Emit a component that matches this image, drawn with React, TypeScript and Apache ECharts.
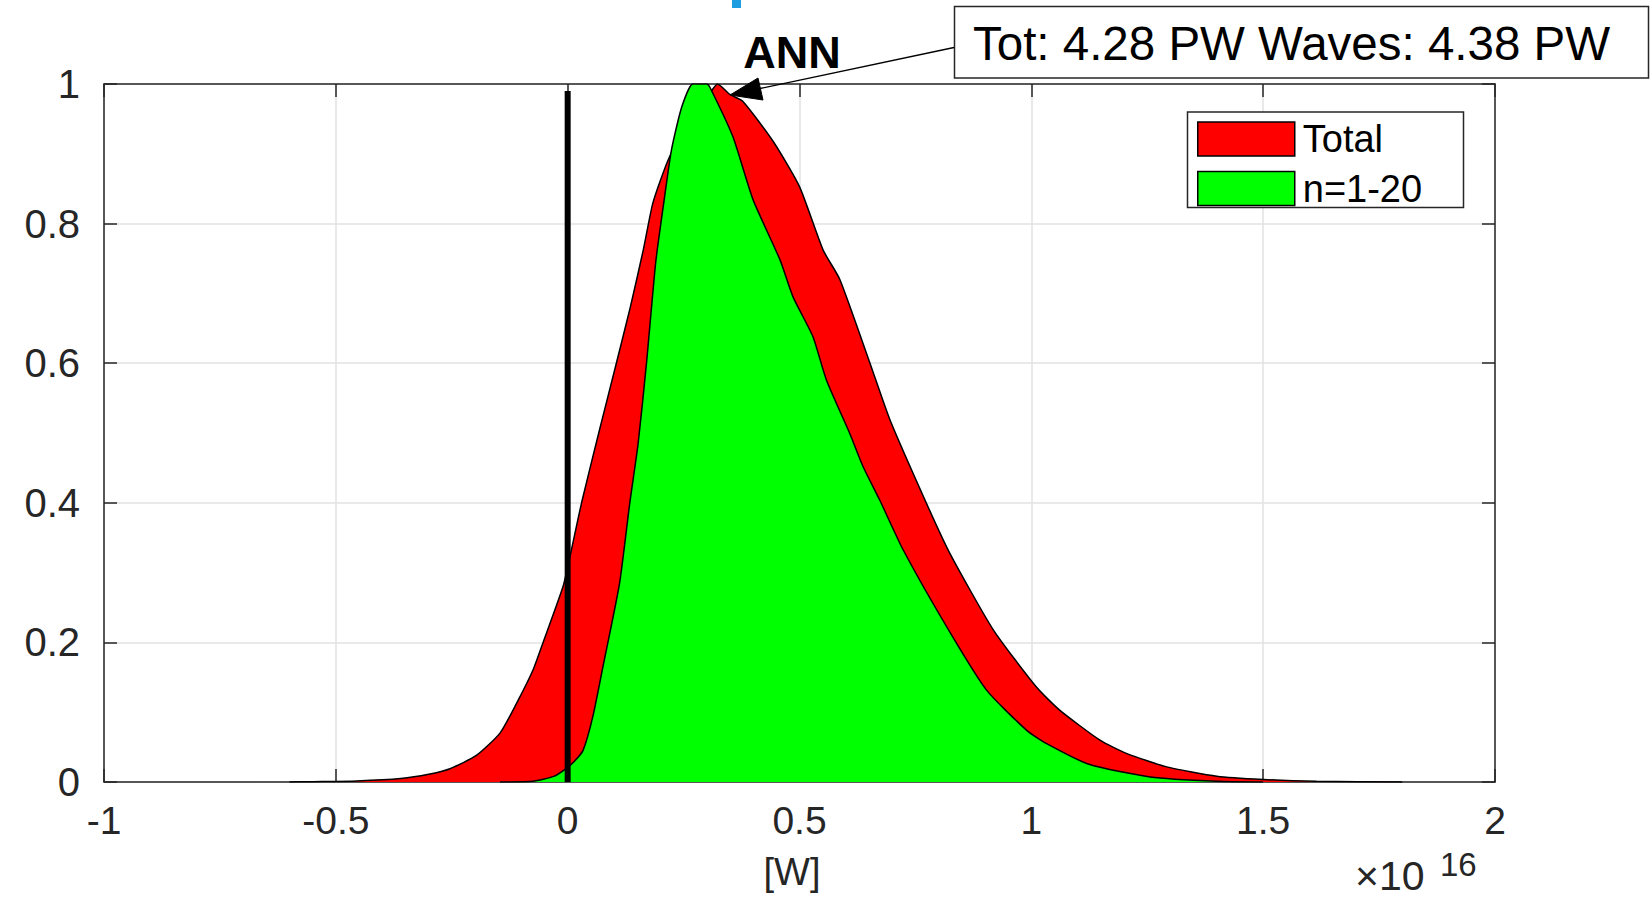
import React, { useEffect, useRef } from "react";
import * as echarts from "echarts";

// ---- data (x in units of 1e16 W, y normalised) ----
const xTicks = [-1, -0.5, 0, 0.5, 1, 1.5, 2];
const yTicks = [0, 0.2, 0.4, 0.6, 0.8, 1];

const totalX = [-0.6, -0.55, -0.455, -0.36, -0.3, -0.254, -0.197, -0.146, -0.11, -0.075, -0.053, -0.01, 0.005, 0.03, 0.067, 0.105, 0.135, 0.163, 0.184, 0.216, 0.25, 0.28, 0.31, 0.323, 0.35, 0.378, 0.443, 0.5, 0.551, 0.587, 0.652, 0.695, 0.774, 0.824, 0.918, 1.011, 1.061, 1.148, 1.205, 1.292, 1.4, 1.5, 1.615, 1.8];
const totalY = [0, 0.0005, 0.0016, 0.005, 0.011, 0.019, 0.038, 0.07, 0.113, 0.16, 0.2, 0.28, 0.323, 0.4, 0.5, 0.6, 0.68, 0.762, 0.83, 0.89, 0.935, 0.965, 0.99, 1.0, 0.985, 0.975, 0.918, 0.853, 0.762, 0.72, 0.6, 0.519, 0.399, 0.328, 0.218, 0.136, 0.103, 0.06, 0.041, 0.0217, 0.0083, 0.0036, 0.001, 0];

const wavesX = [-0.146, -0.075, -0.03, -0.002, 0.015, 0.033, 0.054, 0.076, 0.112, 0.134, 0.152, 0.17, 0.19, 0.209, 0.224, 0.246, 0.27, 0.3, 0.307, 0.356, 0.4, 0.458, 0.486, 0.529, 0.558, 0.608, 0.637, 0.673, 0.724, 0.824, 0.903, 0.99, 1.033, 1.126, 1.256, 1.4, 1.5];
const wavesY = [0, 0.001, 0.008, 0.02, 0.03, 0.045, 0.093, 0.165, 0.285, 0.4, 0.485, 0.6, 0.745, 0.838, 0.906, 0.967, 1.0, 1.0, 0.995, 0.925, 0.834, 0.748, 0.695, 0.638, 0.576, 0.5, 0.452, 0.404, 0.332, 0.215, 0.132, 0.074, 0.055, 0.025, 0.0073, 0.001, 0];

const zeroLineX = [0, 0];
const zeroLineY = [0, 0.99];

const legendNames = ["Total", "n=1-20"];
const seriesColors = ["#ff0000", "#00ff00"];
const annotationText = "Tot: 4.28 PW Waves: 4.38 PW";
const annLabel = "ANN";
const xAxisTitle = "[W]";
const exponentBase = "\u00d710";
const exponentPower = "16";

const FONT = "'Liberation Sans', Arial, Helvetica, sans-serif";
const AX = "#262626";

export default function App() {
  const ref = useRef<HTMLDivElement>(null);
  useEffect(() => {
    if (!ref.current) return;
    const chart = echarts.init(ref.current, undefined, { renderer: "svg" });
    const pairs = (xs: number[], ys: number[]) => xs.map((x, i) => [x, ys[i]]);
    const axisCommon = {
      type: "value" as const,
      axisLine: { show: true, onZero: false, lineStyle: { color: AX, width: 1.5 } },
      axisTick: { show: true, inside: true, length: 13, lineStyle: { color: AX, width: 1.5 } },
    };
    chart.setOption({
      animation: false,
      backgroundColor: "#ffffff",
      grid: { left: 104, right: 157, top: 84, bottom: 117 },
      xAxis: [
        {
          ...axisCommon,
          position: "bottom",
          min: xTicks[0],
          max: xTicks[xTicks.length - 1],
          interval: 0.5,
          splitLine: { show: true, lineStyle: { color: "#e2e2e2", width: 1.5 } },
          axisLabel: { fontSize: 39, color: AX, fontFamily: FONT, margin: 19 },
        },
        {
          ...axisCommon,
          position: "top",
          min: xTicks[0],
          max: xTicks[xTicks.length - 1],
          interval: 0.5,
          splitLine: { show: false },
          axisLabel: { show: false },
        },
      ],
      yAxis: [
        {
          ...axisCommon,
          position: "left",
          min: yTicks[0],
          max: yTicks[yTicks.length - 1],
          interval: 0.2,
          splitLine: { show: true, lineStyle: { color: "#e2e2e2", width: 1.5 } },
          axisLabel: { fontSize: 40, color: AX, fontFamily: FONT, margin: 24 },
        },
        {
          ...axisCommon,
          position: "right",
          min: yTicks[0],
          max: yTicks[yTicks.length - 1],
          interval: 0.2,
          splitLine: { show: false },
          axisLabel: { show: false },
        },
      ],
      legend: {
        data: legendNames,
        orient: "vertical",
        left: 1197,
        top: 120,
        padding: 0,
        itemWidth: 97,
        itemHeight: 34,
        itemGap: 11.5,
        icon: "rect",
        itemStyle: { borderColor: "#000", borderWidth: 1.5 },
        textStyle: { fontSize: 38, color: "#000", fontFamily: FONT, padding: [0, 0, 0, 3], lineHeight: 34 },
        selectedMode: false,
        z: 6,
      },
      series: [
        {
          type: "line",
          name: legendNames[0],
          data: pairs(totalX, totalY),
          symbol: "none",
          smooth: 0.2,
          itemStyle: { color: seriesColors[0] },
          lineStyle: { color: "#000", width: 1.5 },
          areaStyle: { color: seriesColors[0], opacity: 1 },
          z: 2,
        },
        {
          type: "line",
          name: legendNames[1],
          data: pairs(wavesX, wavesY),
          symbol: "none",
          smooth: 0.2,
          itemStyle: { color: seriesColors[1] },
          lineStyle: { color: "#000", width: 1.5 },
          areaStyle: { color: seriesColors[1], opacity: 1 },
          z: 3,
        },
        {
          type: "line",
          name: "zero",
          data: pairs(zeroLineX, zeroLineY),
          symbol: "none",
          itemStyle: { color: "#000" },
          lineStyle: { color: "#000", width: 6 },
          z: 4,
        },
      ],
      graphic: [
        // legend frame
        {
          type: "rect",
          z: 5,
          shape: { x: 1187.5, y: 112, width: 276, height: 95.5 },
          style: { fill: "#ffffff", stroke: AX, lineWidth: 1.5 },
        },
        // cut-off title fragment
        {
          type: "rect",
          z: 5,
          shape: { x: 732, y: 0, width: 9, height: 8 },
          style: { fill: "#1f9de1" },
        },
        // annotation box
        {
          type: "rect",
          z: 10,
          shape: { x: 954.5, y: 6.5, width: 694, height: 71.5 },
          style: { fill: "#ffffff", stroke: AX, lineWidth: 1.5 },
        },
        {
          type: "text",
          z: 11,
          x: 973,
          y: 43,
          style: { text: annotationText, fontSize: 47.5, fontFamily: FONT, fill: "#000", verticalAlign: "middle" },
        },
        // arrow
        {
          type: "line",
          z: 10,
          shape: { x1: 760, y1: 88.5, x2: 954, y2: 47.5 },
          style: { stroke: "#000", lineWidth: 1.3 },
        },
        {
          type: "polygon",
          z: 10,
          shape: { points: [[730, 95], [758, 78], [763, 100]] },
          style: { fill: "#000", stroke: "#000", lineWidth: 1 },
        },
        {
          type: "text",
          z: 10,
          x: 792,
          y: 52,
          style: { text: annLabel, fontSize: 45, fontWeight: "bold", fontFamily: FONT, fill: "#000", align: "center", verticalAlign: "middle" },
        },
        // axis title
        {
          type: "text",
          z: 10,
          x: 792,
          y: 872,
          style: { text: xAxisTitle, fontSize: 38, fontFamily: FONT, fill: AX, align: "center", verticalAlign: "middle" },
        },
        {
          type: "text",
          z: 10,
          x: 1355,
          y: 876,
          style: { text: exponentBase, fontSize: 41, fontFamily: FONT, fill: AX, align: "left", verticalAlign: "middle" },
        },
        {
          type: "text",
          z: 10,
          x: 1440,
          y: 864,
          style: { text: exponentPower, fontSize: 33, fontFamily: FONT, fill: AX, align: "left", verticalAlign: "middle" },
        },
      ],
    });
    return () => chart.dispose();
  }, []);
  return (
    <div
      ref={ref}
      style={{ position: "fixed", left: 0, top: 0, width: 1652, height: 899, background: "#fff" }}
    />
  );
}
